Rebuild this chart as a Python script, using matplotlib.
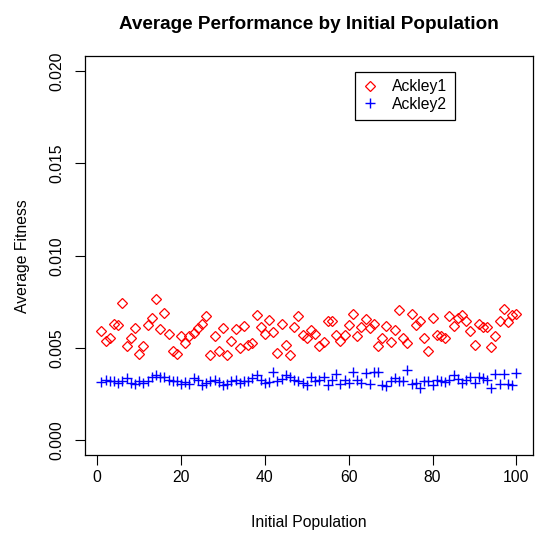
# plot.py

import matplotlib

matplotlib.use('Agg')
import matplotlib.pyplot as plt

# --- 데이터 ---
population = list(range(1, 101))

ackley1 = [
    5.90, 5.36, 5.57, 6.32, 6.23, 7.44, 5.09, 5.54, 6.08, 4.69,
    5.09, 6.23, 6.61, 7.67, 6.03, 6.91, 5.77, 4.82, 4.69, 5.63,
    5.27, 5.63, 5.80, 6.08, 6.30, 6.71, 4.60, 5.67, 4.82, 6.08,
    4.64, 5.36, 6.02, 5.00, 6.17, 5.14, 5.27, 6.77, 6.12, 5.76,
    6.53, 5.87, 4.73, 6.30, 5.14, 4.64, 6.12, 6.71, 5.72, 5.54,
    5.99, 5.76, 5.09, 5.33, 6.48, 6.48, 5.72, 5.36, 5.72, 6.26,
    6.84, 5.68, 6.12, 6.57, 6.08, 6.30, 5.09, 5.57, 6.17, 5.33,
    5.99, 7.04, 5.54, 5.27, 6.84, 6.23, 6.44, 5.57, 4.82, 6.63,
    5.72, 5.63, 5.57, 6.71, 6.17, 6.63, 6.77, 6.48, 5.95, 5.18,
    6.30, 6.12, 6.12, 5.05, 5.68, 6.48, 7.13, 6.41, 6.77, 6.84,
]

ackley2 = [
    3.16, 3.28, 3.19, 3.23, 3.10, 3.19, 3.37, 3.10, 3.05, 3.19,
    3.10, 3.19, 3.46, 3.52, 3.46, 3.46, 3.28, 3.19, 3.23, 3.05,
    3.16, 3.05, 3.37, 3.28, 3.01, 3.10, 3.19, 3.28, 3.16, 3.01,
    3.05, 3.19, 3.28, 3.10, 3.19, 3.23, 3.37, 3.55, 3.28, 3.10,
    3.16, 3.73, 3.19, 3.33, 3.55, 3.46, 3.28, 3.19, 3.10, 3.01,
    3.46, 3.19, 3.28, 3.46, 3.01, 3.28, 3.59, 3.05, 3.28, 3.10,
    3.70, 3.28, 3.10, 3.64, 3.05, 3.73, 3.70, 3.01, 2.92, 3.19,
    3.37, 3.19, 3.23, 3.79, 3.05, 3.10, 2.83, 3.19, 3.23, 3.01,
    3.28, 3.19, 3.16, 3.28, 3.55, 3.33, 3.10, 3.28, 3.46, 3.10,
    3.46, 3.37, 3.28, 2.83, 3.59, 3.05, 3.59, 3.05, 3.01, 3.64,
]

y_ticks = [0.000, 0.005, 0.010, 0.015, 0.020]
x_ticks = [0, 20, 40, 60, 80, 100]

plt.rcParams['font.family'] = ['Liberation Sans', 'DejaVu Sans']


def create_performance_scatter(save_path):
    """초기 개체수별 평균 적합도 산점도 (R base plot 스타일)"""
    fig = plt.figure(figsize=(5.42, 5.35), dpi=100)
    ax = fig.add_axes([0.1565, 0.1492, 0.8270, 0.7456])

    ax.plot(population, [v / 1000 for v in ackley1], linestyle='none',
            marker='D', markersize=5.2, markerfacecolor='none',
            markeredgecolor='#ff0000', markeredgewidth=0.9, label='Ackley1')
    ax.plot(population, [v / 1000 for v in ackley2], linestyle='none',
            marker='+', markersize=7.5, markeredgecolor='#0000ff',
            markeredgewidth=1.0, label='Ackley2')

    ax.set_xlim(1 - 0.04 * 99, 100 + 0.04 * 99)
    ax.set_ylim(-0.0008, 0.0208)
    ax.set_xticks(x_ticks)
    ax.set_yticks(y_ticks)
    ax.set_yticklabels([f'{t:.3f}' for t in y_ticks], rotation=90, va='center')

    ax.tick_params(axis='both', direction='out', length=7, width=0.8,
                   labelsize=11.3, top=False, right=False)
    ax.tick_params(axis='x', pad=4)
    ax.tick_params(axis='y', pad=8)
    for sp in ax.spines.values():
        sp.set_linewidth(0.9)
        sp.set_color('black')

    ax.set_xlabel('Initial Population', fontsize=11.3, labelpad=21)
    ax.set_ylabel('Average Fitness', fontsize=11.3, labelpad=14)
    ax.set_title('Average Performance by Initial Population',
                 fontsize=13.6, fontweight='bold', pad=20)

    leg = ax.legend(loc='upper left', bbox_to_anchor=(0.602, 0.9617),
                    borderaxespad=0, fancybox=False, framealpha=1,
                    edgecolor='black', fontsize=11.3, handlelength=1.0,
                    handletextpad=0.9, borderpad=0.5, labelspacing=0.15)
    leg.get_frame().set_linewidth(0.9)

    plt.savefig(save_path, dpi=100)
    plt.close()


create_performance_scatter('out.png')
